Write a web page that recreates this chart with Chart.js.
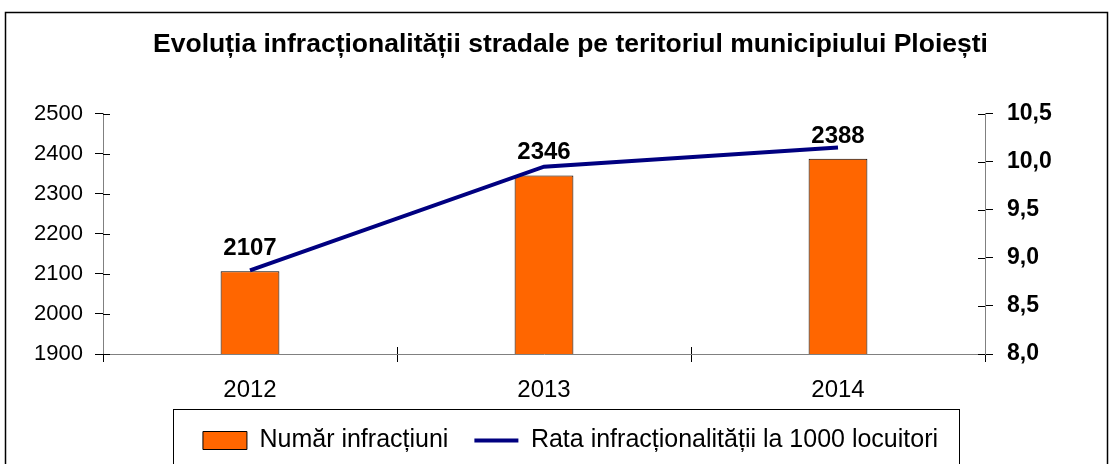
<!DOCTYPE html>
<html>
<head>
<meta charset="utf-8">
<script src="https://cdn.jsdelivr.net/npm/chart.js@4"></script>
<style>
  html, body { margin: 0; padding: 0; background: #fff; }
  #wrap { width: 1111px; height: 464px; }
</style>
</head>
<body>
<div id="wrap"><canvas id="chart" width="1111" height="464"></canvas></div>
<script>
var years = ['2012', '2013', '2014'];
var infractiuni = [2107, 2346, 2388];
var rata = [8.87, 9.95, 10.15];

var FONT = "'Liberation Sans', Arial, sans-serif";

// cross ticks (inner half) + frames + bar value labels
var extras = {
    id: 'extras',
    afterDraw: function (chart) {
        var c = chart.ctx;
        var a = chart.chartArea;
        c.save();
        c.strokeStyle = '#000';
        c.lineWidth = 1;
        c.beginPath();
        chart.scales.y.ticks.forEach(function (t) {
            var y = Math.round(chart.scales.y.getPixelForValue(t.value)) + 0.5;
            c.moveTo(a.left, y); c.lineTo(a.left + 7, y);
        });
        chart.scales.y1.ticks.forEach(function (t) {
            var y = Math.round(chart.scales.y1.getPixelForValue(t.value)) + 0.5;
            c.moveTo(a.right, y); c.lineTo(a.right - 7, y);
        });
        var step = (a.right - a.left) / years.length;
        for (var i = 1; i < years.length; i++) {
            var x = Math.round(a.left + step * i) + 0.5;
            c.moveTo(x, a.bottom); c.lineTo(x, a.bottom - 7);
        }
        c.stroke();

        // outer frame
        c.lineWidth = 1.5;
        c.strokeRect(5.5, 12.5, 1102, 470);

        // legend frame
        var lg = chart.legend;
        if (lg && lg.legendHitBoxes.length) {
            var hb = lg.legendHitBoxes;
            var l = hb[0].left - 30, r = hb[hb.length - 1].left + hb[hb.length - 1].width + 21;
            c.lineWidth = 1;
            c.strokeRect(Math.round(l) + 0.5, 409.5, Math.round(r - l), 80);
        }

        // values above bars
        var meta = chart.getDatasetMeta(1);
        c.fillStyle = '#000';
        c.font = 'bold 24px ' + FONT;
        c.textAlign = 'center';
        c.textBaseline = 'alphabetic';
        meta.data.forEach(function (bar, i) {
            c.fillText(String(infractiuni[i]), bar.x, bar.y - 16);
        });
        c.restore();
    }
};

var ctx = document.getElementById('chart').getContext('2d');
var chart = new Chart(ctx, {
    type: 'bar',
    data: {
        labels: years,
        datasets: [{
            type: 'line',
            label: 'Rata infracționalității la 1000 locuitori',
            data: rata,
            yAxisID: 'y1',
            borderColor: '#000080',
            backgroundColor: '#000080',
            borderWidth: 4,
            pointRadius: 0,
            pointStyle: 'line',
            tension: 0,
            order: 0
        }, {
            label: 'Număr infracțiuni',
            data: infractiuni,
            yAxisID: 'y',
            backgroundColor: '#FF6600',
            borderColor: '#000',
            borderWidth: 1,
            pointStyle: 'rect',
            barPercentage: 0.2,
            categoryPercentage: 1,
            order: 1
        }]
    },
    options: {
        responsive: false,
        animation: false,
        layout: { padding: { left: 30, right: 0, top: 0, bottom: 1 } },
        plugins: {
            title: {
                display: true,
                text: 'Evoluția infracționalității stradale pe teritoriul municipiului Ploiești',
                color: '#000',
                font: { family: FONT, size: 26.5, weight: 'bold' },
                padding: { top: 29, bottom: 53 }
            },
            legend: {
                position: 'bottom',
                reverse: true,
                labels: {
                    color: '#000',
                    font: { family: FONT, size: 25 },
                    usePointStyle: true,
                    pointStyleWidth: 44,
                    boxHeight: 18,
                    padding: 26
                }
            },
            tooltip: { enabled: false }
        },
        scales: {
            x: {
                offset: true,
                grid: { offset: true, drawOnChartArea: false, tickLength: 8, color: '#000' },
                border: { color: '#808080' },
                ticks: { color: '#000', font: { family: FONT, size: 24 }, padding: 14 },
                afterFit: function (s) { s.height = 48; }
            },
            y: {
                position: 'left',
                min: 1900,
                max: 2500,
                ticks: {
                    stepSize: 100,
                    color: '#000',
                    font: { family: FONT, size: 22 },
                    padding: 12,
                    callback: function (v) { return String(v); }
                },
                grid: { drawOnChartArea: false, tickLength: 8, color: '#000' },
                border: { color: '#808080' },
                afterFit: function (s) { s.width = 73; }
            },
            y1: {
                position: 'right',
                min: 8,
                max: 10.5,
                ticks: {
                    stepSize: 0.5,
                    color: '#000',
                    font: { family: FONT, size: 23, weight: 'bold' },
                    padding: 14,
                    callback: function (v) { return v.toFixed(1).replace('.', ','); }
                },
                grid: { drawOnChartArea: false, tickLength: 8, color: '#000' },
                border: { color: '#808080' },
                afterFit: function (s) { s.width = 126; }
            }
        }
    },
    plugins: [extras]
});
</script>
</body>
</html>
